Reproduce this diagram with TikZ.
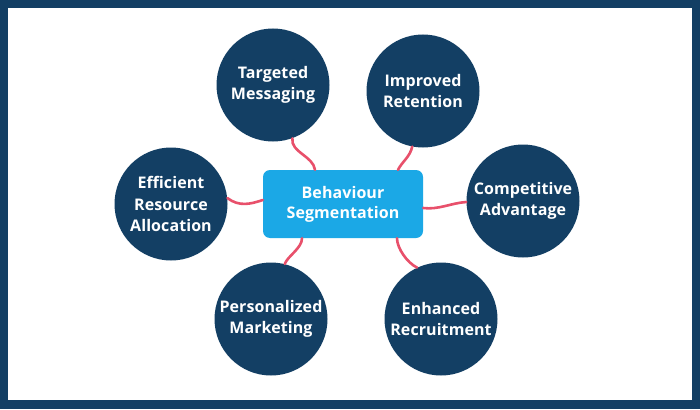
\documentclass[tikz,border=0pt]{standalone}
\usepackage{fontspec}
\setmainfont{Open Sans}[LetterSpace=0.5]
\usetikzlibrary{calc}
\definecolor{navy}{HTML}{133F64}
\definecolor{sky}{HTML}{1BA8E6}
\definecolor{pinkred}{HTML}{E8506B}
\begin{document}
\begin{tikzpicture}[x=1pt,y=-1pt,
  bub/.style={circle,fill=navy,minimum size=113pt,inner sep=0pt,text=white,
    font=\bfseries\fontsize{16}{21.5}\selectfont,align=center},
  hub/.style={rectangle,rounded corners=7pt,fill=sky,minimum width=160pt,
    minimum height=68pt,inner sep=0pt,text=white,
    font=\bfseries\fontsize{16}{20}\selectfont,align=center},
  link/.style={draw=pinkred,line width=2.6pt,line cap=round}]
\fill[navy] (0,0) rectangle (700,409);
\fill[white] (8,8) rectangle (692,400);
\node[hub] (box) at (343,204) {Behaviour\\Segmentation};
\node[bub] (tm) at (273,85) {Targeted\\Messaging};
\node[bub] (ir) at (423,91) {Improved\\Retention};
\node[bub] (era) at (171,204) {Efficient\\Resource\\Allocation};
\node[bub] (ca) at (523,201) {Competitive\\Advantage};
\node[bub] (pm) at (271,319) {Personalized\\Marketing};
\node[bub] (er) at (441,319) {Enhanced\\Recruitment};
\path[link] (tm.-70) .. controls +(-2,14) and +(-2,-14) .. ($(box.north)+(-28,0)$);
\path[link] (ir.-101) .. controls +(-2,10) and +(4,-8) .. ($(box.north)+(55,0)$);
\path[link] (era.6) .. controls +(12,9) and +(-12,4) .. ($(box.west)+(0,-4)$);
\path[link] (ca.181) .. controls +(-15,1) and +(15,2) .. ($(box.east)+(0,4)$);
\path[link] (pm.76) .. controls +(3,-8) and +(0,10) .. ($(box.south)+(-41,0)$);
\path[link] (er.115) .. controls +(-10,-5) and +(0,10) .. ($(box.south)+(54,0)$);
\end{tikzpicture}
\end{document}
